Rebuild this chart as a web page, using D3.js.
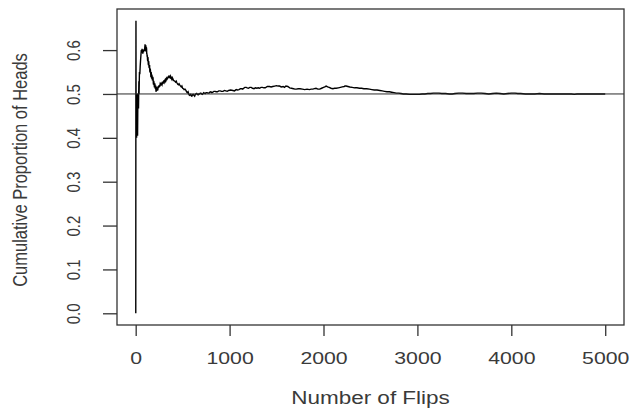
<!DOCTYPE html>
<html>
<head>
<meta charset="utf-8">
<script src="https://cdn.jsdelivr.net/npm/d3@7"></script>
<style>
  html, body { margin: 0; padding: 0; background: #fff; }
  svg { display: block; }
  text { font-family: "Liberation Sans", Arial, Helvetica, sans-serif; fill: #3a3a3a; }
</style>
</head>
<body>
<svg id="chart" width="633" height="411"></svg>
<script>
// ---- data (flip number, cumulative proportion), in segments ----
const flipsA = [1,2,3,4,5,6,7,8,9,10, 11,12,13,14,15,16,17,18,19,20, 21,22,23,24,25,26,28,30,32,34, 36,38,40,44,48,52,56,60,64,68, 72,76,80,84,88,92,96,100];
const propsA = [0,.5,.667,.5,.4,.5,.429,.5,.444,.4, .455,.417,.462,.429,.467,.5,.471,.444,.421,.405, .429,.455,.478,.5,.48,.5,.5,.467,.5,.529, .5,.526,.55,.545,.563,.577,.589,.6,.594,.603, .597,.592,.6,.595,.602,.598,.604,.613];

const flipsB = [102,104,106,108,110,112,114,116,118,120, 122,124,126,128,130,132,134,136,138,140, 142,145,148,150,152,155,158,160,162,165, 168,170,172,175,178,180,182,185,188,190, 192,195,198,200,203,205,208,210,213,215, 218,220,223,225,228,230];
const propsB = [.6,.608,.597,.611,.6,.598,.606,.603,.59,.592, .585,.588,.578,.575,.584,.58,.568,.566,.575,.571, .561,.559,.566,.553,.549,.558,.552,.546,.538,.55, .541,.535,.544,.54,.531,.532,.539,.536,.524,.521, .53,.526,.518,.515,.524,.522,.512,.514,.519,.509, .505,.516,.511,.507,.515,.513];

const flipsC = [235,240,245,250,255,260,265,270,275,280, 285,290,295,300,305,310,315,320,325,330, 335,340,345,350,354,358,362,366,370,375, 380,385,390,395,402,410,418,425,432,440, 448,455,462,470,478,485,492,500,508,515, 525,535,542,550,558,565,572,580,586,592, 598];
const propsC = [.508,.518,.514,.52,.516,.522,.519,.526,.523,.521, .528,.524,.525,.531,.527,.531,.533,.529,.532,.536, .534,.536,.539,.54,.536,.542,.538,.537,.541,.539, .535,.533,.537,.535,.531,.53,.529,.527,.529,.525, .522,.521,.523,.52,.518,.516,.518,.513,.512,.51, .511,.508,.505,.503,.505,.5,.497,.498,.499,.496, .495];

const flipsD = [605,612,620,628,635,642,650,658,665,672, 680,688,695,702,710,718,725,732,740,750, 760,770,780,790,800,811,822,833,845,857, 870,885,900,915,930,945,960,975,990];
const propsD = [.498,.499,.497,.495,.499,.5,.501,.499,.498,.5, .5,.502,.502,.5,.499,.501,.503,.502,.501,.503, .503,.502,.502,.504,.505,.503,.504,.506,.506,.505, .505,.507,.507,.506,.506,.508,.507,.506,.508];

const flipsE = [1012,1035,1052,1070,1085,1100,1115,1130,1140,1150, 1163,1177,1188,1200,1215,1230,1245,1260,1275,1290, 1305,1319,1335,1350,1365,1380,1402,1425,1442,1460, 1480,1500,1516,1532,1550,1570,1585,1600,1620,1640, 1660,1680,1695,1710,1730,1750,1775,1800,1825,1850, 1868,1887,1903,1920,1940,1960,1980,2000];
const propsE = [.509,.508,.507,.51,.509,.51,.512,.512,.511,.513, .515,.515,.514,.513,.515,.515,.513,.512,.514,.513, .514,.513,.515,.515,.514,.514,.517,.517,.516,.517, .518,.519,.518,.518,.516,.517,.515,.518,.517,.514, .513,.512,.511,.511,.512,.512,.511,.51,.511,.51, .511,.511,.512,.513,.511,.511,.513,.515];

const flipsF = [2014,2028,2044,2060,2080,2100,2118,2135,2158,2180, 2200,2220,2230,2241,2260,2280,2305,2330,2356,2383, 2406,2430,2460,2489,2515,2540,2570,2600,2625,2650, 2676,2702,2726,2750,2775,2800,2825,2850,2865,2880, 2915,2950,2985];
const propsF = [.516,.518,.516,.515,.513,.512,.513,.513,.514,.515, .516,.517,.518,.518,.517,.516,.515,.514,.514,.513, .513,.512,.512,.511,.51,.509,.509,.508,.507,.506, .505,.505,.504,.503,.502,.502,.501,.5,.5,.5, .499,.499,.499];

const flipsG = [3021,3050,3080,3110,3140,3170,3199,3230,3260,3300, 3340,3370,3400,3440,3480,3520,3560,3600,3640,3680, 3720,3760,3800,3840,3880,3920,3960,4000,4040,4070, 4100,4150,4200,4250,4300,4350,4400,4450,4500,4550, 4600,4640,4670,4700,4750,5000];
const propsG = [.499,.5,.5,.501,.501,.502,.502,.502,.501,.501, .5,.5,.501,.502,.502,.501,.501,.501,.502,.502, .501,.5,.501,.502,.501,.5,.501,.502,.502,.501, .501,.5,.5,.5,.501,.5,.5,.5,.5,.5, .5,.5,.499,.5,.5,.5];

const xTicks = [0,1000,2000,3000,4000,5000];
const yTicks = [0.0,0.1,0.2,0.3,0.4,0.5,0.6];
const xTitle = "Number of Flips";
const yTitle = "Cumulative Proportion of Heads";
const refLine = 0.5;

const flips = [].concat(flipsA, flipsB, flipsC, flipsD, flipsE, flipsF, flipsG);
const proportions = [].concat(propsA, propsB, propsC, propsD, propsE, propsF, propsG);

// ---- layout ----
const box = {left: 117, right: 624, top: 9, bottom: 325};
const SX = 1.25; // horizontal stretch of the glyphs
const ink = "#333";

const svg = d3.select("#chart");

// R-style 4% range extension
const xMin = d3.min(flips), xMax = d3.max(flips);
const xPad = 0.04 * (xMax - xMin);
const yMin = d3.min(proportions), yMax = d3.max(proportions);
const yPad = 0.04 * (yMax - yMin);

const x = d3.scaleLinear().domain([xMin - xPad, xMax + xPad]).range([box.left, box.right]);
const y = d3.scaleLinear().domain([yMin - yPad, yMax + yPad]).range([box.bottom, box.top]);

// data line
const n = Math.min(flips.length, proportions.length);
const pts = d3.range(n).map(i => [flips[i], proportions[i]]);
svg.append("path")
  .datum(pts)
  .attr("fill", "none")
  .attr("stroke", "#000")
  .attr("stroke-width", 1.4)
  .attr("stroke-linejoin", "miter")
  .attr("d", d3.line().x(d => x(d[0])).y(d => y(d[1])));

// reference line at 0.5
svg.append("line")
  .attr("x1", box.left).attr("x2", box.right)
  .attr("y1", y(refLine)).attr("y2", y(refLine))
  .attr("stroke", "#2a2a2a").attr("stroke-width", 1);

// box
svg.append("rect")
  .attr("x", box.left).attr("y", box.top)
  .attr("width", box.right - box.left).attr("height", box.bottom - box.top)
  .attr("fill", "none").attr("stroke", ink).attr("stroke-width", 1.3);

// x axis
const gx = svg.append("g")
  .attr("transform", `translate(0,${box.bottom})`)
  .call(d3.axisBottom(x).tickValues(xTicks).tickSize(11).tickFormat(d3.format("d")));
gx.select(".domain").remove();
gx.selectAll(".tick line").attr("stroke", ink).attr("stroke-width", 1.3);
gx.selectAll(".tick text")
  .attr("y", 0).attr("dy", 0)
  .attr("transform", `translate(0,39) scale(${SX},1)`)
  .attr("font-size", 17).attr("fill", "#3a3a3a")
  .style("font-family", '"Liberation Sans", Arial, sans-serif');

// y axis
const gy = svg.append("g")
  .attr("transform", `translate(${box.left},0)`)
  .call(d3.axisLeft(y).tickValues(yTicks).tickSize(14).tickFormat(d3.format(".1f")));
gy.select(".domain").remove();
gy.selectAll(".tick line").attr("stroke", ink).attr("stroke-width", 1.3);
gy.selectAll(".tick text")
  .attr("x", 0).attr("y", 0).attr("dy", 0)
  .attr("text-anchor", "middle")
  .attr("transform", `translate(-37,0) scale(${SX},1) rotate(-90)`)
  .attr("font-size", 15).attr("fill", "#3a3a3a")
  .style("font-family", '"Liberation Sans", Arial, sans-serif');

// titles
svg.append("text")
  .attr("text-anchor", "middle")
  .attr("transform", `translate(${(box.left + box.right) / 2},404) scale(${SX},1)`)
  .attr("font-size", 18)
  .text(xTitle);

svg.append("text")
  .attr("text-anchor", "middle")
  .attr("transform", `translate(27,${(box.top + box.bottom) / 2 + 3}) scale(${SX},1) rotate(-90)`)
  .attr("font-size", 16.5)
  .text(yTitle);
</script>
</body>
</html>
